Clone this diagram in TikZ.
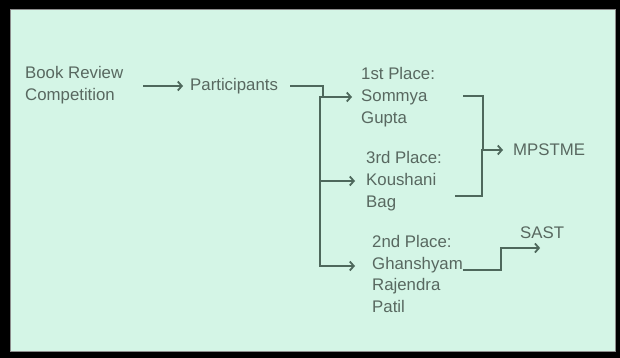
\documentclass[tikz,border=0pt]{standalone}
\usepackage{fontspec}
\setmainfont{Liberation Sans}
\usetikzlibrary{arrows.meta}
\definecolor{mintbg}{RGB}{212,245,230}
\definecolor{txtgray}{RGB}{88,104,96}
\definecolor{linegreen}{RGB}{78,104,92}
\tikzset{
	lbl/.style={anchor=west, inner sep=0pt, align=left, text=txtgray, font=\fontsize{16.8}{21.8}\selectfont},
	conn/.style={draw=linegreen, line width=1.8pt},
	arr/.style={conn, -{Straight Barb[length=4pt,width=9pt,line width=1.8pt]}}
}

\begin{document}
\begin{tikzpicture}[x=1pt, y=-1pt]
			%%%%% START %%%%%
			
			\useasboundingbox (0, 0) rectangle (620, 358);
			\fill[black] (0, 0) rectangle (620, 358);
			\draw[fill=mintbg, draw=black!45, line width=0.6pt] (10, 9) rectangle (615, 351);
			
			\node[lbl] (book) at (25, 85) {Book Review\\Competition};
			\node[lbl] (part) at (190, 86) {Participants};
			
			\node[lbl] (first) at (361, 97) {1st Place:\\Sommya\\Gupta};
			\node[lbl] (third) at (366, 181) {3rd Place:\\Koushani\\Bag};
			\node[lbl] (second) at (372, 274) {2nd Place:\\Ghanshyam\\Rajendra\\Patil};
			
			\node[lbl] (mps) at (513, 150) {MPSTME};
			\node[lbl] (sast) at (520, 233) {SAST};
			
			\coordinate (trunk) at (320, 97);
			\coordinate (join) at (482, 150);
			
			\draw[arr, shorten <=20pt, shorten >=7pt] (book.east |- part.west) -- (part.west);
			
			\draw[conn, shorten <=12pt] (part.east) -| ([shift={(3,0)}]trunk);
			\draw[arr, shorten >=9pt] ([shift={(-1,0)}]trunk) -- (first.west);
			\draw[conn] (trunk) -- ([shift={(0,-8)}]trunk |- second.west);
			\draw[arr, shorten >=11pt] ([shift={(-1,0)}]trunk |- third.west) -- (third.west);
			\draw[arr, shorten >=17pt] ([shift={(-1,-8)}]trunk |- second.west) -- ([shift={(0,-8)}]second.west);
			
			\draw[conn] ([shift={(0,-1)}]first.east -| 463, 0) -| ([shift={(1,0)}]join);
			\draw[conn] (third.east -| 455, 0) ++(0, 15) -| (join);
			\draw[arr, shorten >=10pt] ([shift={(-1,0)}]join) -- (mps.west);
			
			\draw[arr] ([shift={(0,-4)}]second.east) -- ++(38, 0) |- ([shift={(-2,15)}]sast.center);
			
			%%%%% END %%%%%
\end{tikzpicture}
\end{document}
